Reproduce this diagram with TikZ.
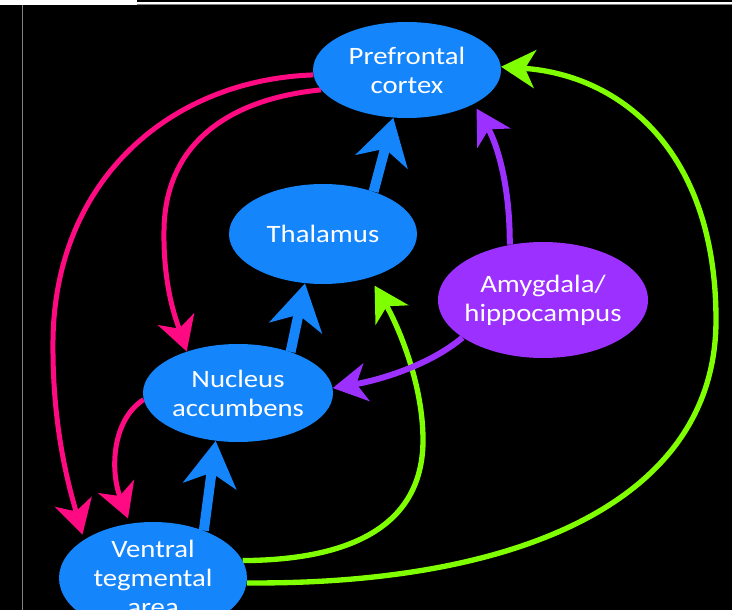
\documentclass[tikz,border=0pt]{standalone}
\usepackage{fontspec}
\setmainfont[FakeStretch=1.15]{Carlito}
\usetikzlibrary{arrows.meta,shapes.geometric}
\definecolor{bblue}{HTML}{1485FA}
\definecolor{ppurple}{HTML}{9B30FF}
\definecolor{ppink}{HTML}{FF0A82}
\definecolor{ggreen}{HTML}{80FF00}
\pgfdeclarelayer{bg}
\pgfsetlayers{bg,main}
\begin{document}
\begin{tikzpicture}[x=0.75pt,y=-0.75pt,
  region/.style={ellipse, fill=bblue, draw=none, inner sep=0pt, inner xsep=-20pt,
    text=white, align=center, font=\fontsize{18.75pt}{21.75pt}\selectfont},
  thin arrow/.style={line width=#1, -{Stealth[length=25.5pt,width=28.5pt,inset=7.5pt]}},
  pinkarrow/.style={thin arrow=3.75pt, draw=ppink},
  greenarrow/.style={thin arrow=4pt, draw=ggreen},
  purplearrow/.style={thin arrow=4.5pt, draw=ppurple},
  bluearrow/.style={line width=7.5pt, draw=bblue, -{Stealth[length=34pt,width=40pt,inset=10pt]}}
]
\begin{pgfonlayer}{bg}
\fill[black] (0,0) rectangle (732,610);
\fill[white] (0,0) rectangle (137,5.5);
\fill[white] (137,2.5) rectangle (732,4.5);
\fill[gray] (137,4.5) rectangle (732,5.5);
\fill[gray] (22,5.5) rectangle (23.2,610);
\end{pgfonlayer}
\useasboundingbox (0,0) rectangle (732,610);

\node[region, minimum width=141pt, minimum height=72pt] (pfc) at (407,70) {Prefrontal\\cortex};
\node[region, minimum width=141pt, minimum height=75pt] (thal) at (323,234) {Thalamus};
\node[region, minimum width=142.5pt, minimum height=73.5pt] (nacc) at (238,393) {Nucleus\\accumbens};
\node[region, fill=ppurple, minimum width=157.5pt, minimum height=87pt] (amyg) at (543,300) {Amygdala/\\hippocampus};
\node[region, minimum width=141pt, minimum height=84pt] (vta) at (153,578) {Ventral\\tegmental\\area};

\begin{pgfonlayer}{bg}
% pink
\draw[pinkarrow, shorten >=4pt] (pfc.183) .. controls (170,80) and (55,180) .. (53,340)
  .. controls (52,430) and (70,490) .. (vta.151);
\draw[pinkarrow] (pfc.193) .. controls (220,100) and (165,150) .. (164,230)
  .. controls (163,290) and (178,325) .. (nacc.141);
\draw[pinkarrow, shorten >=4pt] (nacc.184) .. controls (112,420) and (110,470) .. (vta.113);
% blue
\draw[bluearrow] (vta.43) -- (nacc.245);
\draw[bluearrow] (nacc.38) -- (thal.250);
\draw[bluearrow] (thal.40) -- (pfc.254);
% green
\draw[greenarrow, shorten >=7pt] (vta.11) .. controls (360,560) and (423,520) .. (423,440)
  .. controls (423,380) and (395,320) .. (thal.317);
\draw[greenarrow] (vta.357) .. controls (520,585) and (716,500) .. (716,320)
  .. controls (716,150) and (620,75) .. (pfc.2);
% purple
\draw[purplearrow, shorten >=4pt] (amyg.121) .. controls (510,180) and (495,140) .. (pfc.333);
\draw[purplearrow] (amyg.205) .. controls (430,365) and (380,380) .. (nacc.3);
\end{pgfonlayer}
\end{tikzpicture}
\end{document}
